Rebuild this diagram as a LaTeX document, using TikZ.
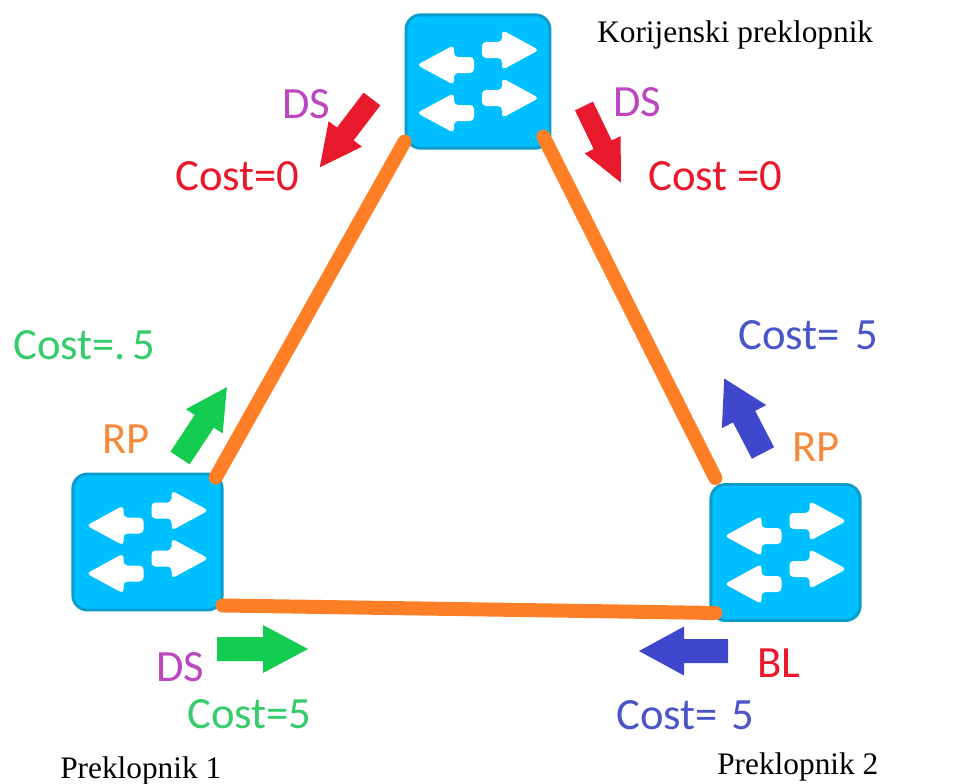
\documentclass[tikz,border=0pt]{standalone}
\usepackage{fontspec}
\setmainfont{Liberation Serif}
\newfontfamily\lblfont{Carlito}
\usetikzlibrary{calc}
\definecolor{swfill}{HTML}{00BFFF}
\definecolor{swedge}{HTML}{0A9CCB}
\definecolor{linkc}{HTML}{FF7F27}
\definecolor{greenA}{HTML}{14CC50}
\definecolor{greenT}{HTML}{36CC6C}
\definecolor{blueA}{HTML}{3F48CC}
\definecolor{blueT}{HTML}{4A55C8}
\definecolor{redA}{HTML}{E8192C}
\definecolor{purpleT}{HTML}{BB48BE}
\definecolor{orangeT}{HTML}{F58A3C}
\tikzset{
  x=0.75pt,y=-0.75pt,
  switchbox/.style={draw=swedge,fill=swfill,line width=2.2pt,rounded corners=11pt,inner sep=0pt,minimum width=108pt,minimum height=100pt},
  link/.style={draw=linkc,line width=10.5pt,line cap=round},
  lbl/.style={font=\lblfont\fontsize{33.5}{38}\selectfont,anchor=base west,inner sep=0pt},
  captext/.style={font=\fontsize{23.5}{27}\selectfont,anchor=base west,inner sep=0pt,text=black},
}
% white port arrows inside a switch
\newcommand{\swarrows}[1]{%
  \begin{scope}[shift={(#1)}]
    \foreach \sx/\sy in {1/-31.5,-1/-16.5,1/16.5,-1/31.5}{
      \fill[white,rounded corners=3pt,xscale=\sx]
        (4,\sy-8) -- (24,\sy-8) -- (24,\sy-20) -- (61,\sy) -- (24,\sy+20) -- (24,\sy+8) -- (4,\sy+8) -- cycle;
    }
  \end{scope}}
% big block arrow: colour, tail, angle, length, shaft half-width, head half-width, head length
\newcommand{\blockarrow}[7]{%
  \fill[#1,shift={(#2)},rotate=#3]
    (0,-#5) -- (#4-#7,-#5) -- (#4-#7,-#6) -- (#4,0) -- (#4-#7,#6) -- (#4-#7,#5) -- (0,#5) -- cycle;}
\begin{document}
\begin{tikzpicture}
\useasboundingbox (0,0) rectangle (953,783);
\fill[white] (0,0) rectangle (953,783);

\node[switchbox] (root) at (478,81.5) {};
\node[switchbox,minimum width=112pt,minimum height=102pt] (swa) at (147.5,542) {};
\node[switchbox,minimum width=112pt,minimum height=102pt] (swb) at (785.5,552.5) {};
\swarrows{478,81.5}
\swarrows{147.5,542}
\swarrows{785.5,552.5}

\draw[link] ($(root.south west)+(0,-8)$) -- ($(swa.north east)+(-8,5)$);
\draw[link] ($(root.south east)+(-8,-13)$) -- ($(swb.north west)+(6,-5)$);
\draw[link] ($(swa.south east)+(-1,-6)$) -- ($(swb.south west)+(6,-9)$);

\blockarrow{redA}{372,99}{232.6}{86}{10.5}{21}{42}
\blockarrow{redA}{584,106}{-64.3}{85}{10}{20}{42}
\blockarrow{greenA}{180,458}{56.5}{85}{11.5}{22}{41}
\blockarrow{blueA}{763,453}{117.5}{84}{12.5}{25}{43}
\blockarrow{greenA}{217,649}{0}{91}{12}{24}{45}
\blockarrow{blueA}{728,651}{180}{89}{12}{24.5}{45}

\node[captext] (t0) at (597,42) {Korijenski preklopnik};
\node[captext] (t1) at (60,778) {Preklopnik 1};
\node[captext] (t2) at (717,774) {Preklopnik 2};

\node[lbl,text=purpleT] (d0) at (282,118) {DS};
\node[lbl,text=purpleT] (d1) at (613,116) {DS};
\node[lbl,text=redA] (c0) at (175,190) {Cost=0};
\node[lbl,text=redA] (c1) at (648,190) {Cost =0};
\node[lbl,text=greenT] (c2) at (13,359) {Cost=.\hspace{5pt}5};
\node[lbl,text=orangeT] (r1) at (102,453) {RP};
\node[lbl,text=purpleT] (d2) at (156,681) {DS};
\node[lbl,text=greenT] (c3) at (187,728) {Cost=5};
\node[lbl,text=blueT] (c4) at (738,349) {Cost=  \hspace{4pt}5};
\node[lbl,text=orangeT] (r2) at (792,461) {RP};
\node[lbl,text=redA] (b1) at (757,677) {BL};
\node[lbl,text=blueT] (c5) at (616,729) {Cost=  \hspace{3pt}5};
\end{tikzpicture}
\end{document}
